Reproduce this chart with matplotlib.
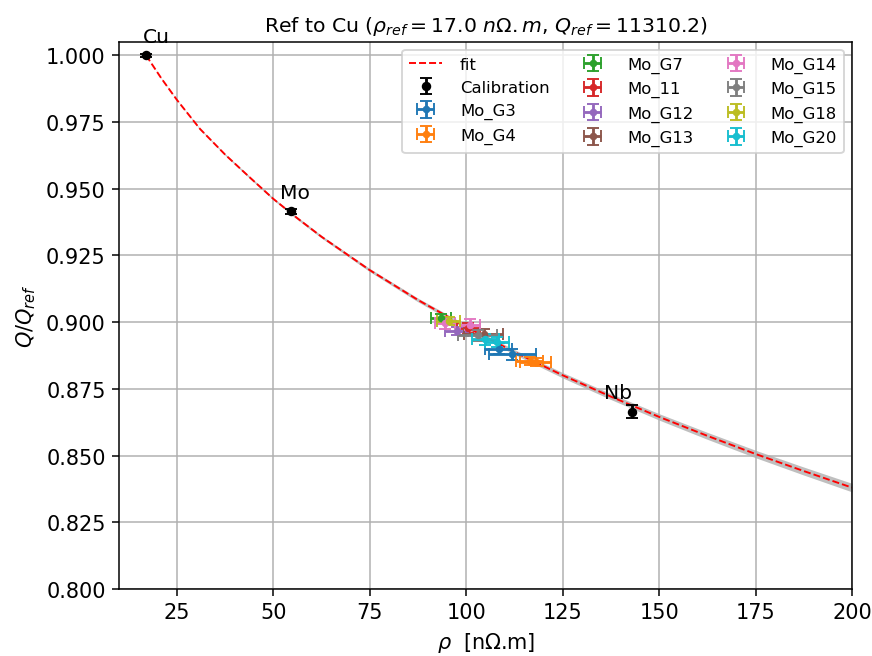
import numpy as np
import matplotlib
matplotlib.use('Agg')
import matplotlib.pyplot as plt

# calibration metals
cal_names = ['Cu', 'Mo', 'Nb']
cal_rho = [17.0, 54.5, 143.0]
cal_q = [1.000, 0.9415, 0.8665]
cal_qerr = [0.0005, 0.001, 0.0025]

# fit curve
fit_rho = [17, 21, 25, 31, 37.5, 44, 50, 56, 62.5, 75, 87.5, 100, 112.5, 125,
           137.5, 150, 162.5, 175, 187.5, 200]
fit_q = [1.000, 0.9913, 0.9833, 0.9724, 0.9628, 0.9541, 0.9462, 0.9392, 0.9320,
         0.9195, 0.9083, 0.8982, 0.8888, 0.8801, 0.8721, 0.8645, 0.8574, 0.8506,
         0.8442, 0.8380]
fit_band = [0.0, 0.0001, 0.0001, 0.0002, 0.0003, 0.0004, 0.0004, 0.0005, 0.0005,
            0.0006, 0.0007, 0.0008, 0.0009, 0.0010, 0.0011, 0.0012, 0.0013,
            0.0014, 0.0015, 0.0016]

# samples: name -> (rho, Q, rho err, Q err)
samples = {
    'Mo_G3':  ([108.5, 112.0], [0.8900, 0.8880], [3.5, 6.0], [0.0020, 0.0020]),
    'Mo_G4':  ([116.5, 118.0], [0.8855, 0.8850], [3.5, 4.0], [0.0015, 0.0015]),
    'Mo_G7':  ([93.5], [0.9015], [2.5], [0.0015]),
    'Mo_11':  ([100.5], [0.8978], [3.0], [0.0020]),
    'Mo_G12': ([97.5], [0.8965], [3.0], [0.0015]),
    'Mo_G13': ([104.5], [0.8955], [5.0], [0.0020]),
    'Mo_G14': ([94.5, 101.0], [0.8995, 0.8990], [2.5, 2.5], [0.0020, 0.0020]),
    'Mo_G15': ([103.0], [0.8950], [5.0], [0.0020]),
    'Mo_G18': ([95.5], [0.9005], [3.0], [0.0015]),
    'Mo_G20': ([105.0, 108.0], [0.8935, 0.8925], [3.5, 3.0], [0.0020, 0.0020]),
}

fig = plt.figure(figsize=(6.4, 4.822), dpi=136.25)
ax = fig.add_axes([0.1365, 0.102, 0.8405, 0.8326])

fr = np.array(fit_rho)
fq = np.array(fit_q)
fb = np.array(fit_band)
ax.fill_between(fr, fq - fb, fq + fb, color='gray', alpha=0.5, lw=0)
ax.plot(fr, fq, 'r--', lw=1, label='fit')

ax.errorbar(cal_rho, cal_q, yerr=cal_qerr, fmt='o', color='k', ms=4,
            capsize=3, label='Calibration')
for name, rho, q in zip(cal_names, cal_rho, cal_q):
    ax.text(rho * 0.95, q + 0.005, name, fontsize=10.7)

for name, (r, q, re, qe) in samples.items():
    ax.errorbar(r, q, xerr=re, yerr=qe, fmt='.', capsize=3, label=name)

ax.set_xlim(10, 200)
ax.set_ylim(0.8, 1.005)
ax.set_xticks([25, 50, 75, 100, 125, 150, 175, 200])
ax.tick_params(labelsize=11)
ax.grid(True)
ax.set_xlabel(r'$\rho$  [n$\Omega$.m]', fontsize=11)
ax.set_ylabel(r'$Q/Q_{ref}$', fontsize=11)
ax.set_title(r'Ref to Cu ($\rho_{ref}=17.0\ n\Omega.m$, $Q_{ref}=11310.2$)', fontsize=10.8)
ax.legend(ncol=3, loc='upper right', fontsize=8.7, handletextpad=1.1,
          columnspacing=1.6)

fig.savefig('out.png', dpi=136.25)
